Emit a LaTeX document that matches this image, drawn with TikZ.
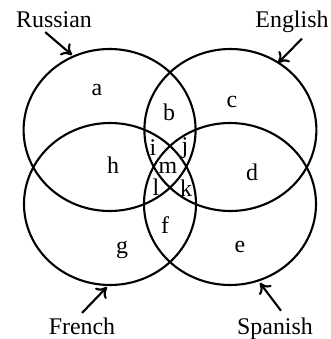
\documentclass[tikz,border=0pt]{standalone}
\usepackage{fontspec}
\setmainfont{Liberation Serif}
\usepackage{tikz}
\usetikzlibrary{arrows.meta}

\tikzset{
  lang/.style={anchor=base,inner sep=1pt,font=\fontsize{17}{20}\selectfont},
  zone/.style={inner sep=0pt,font=\fontsize{17}{20}\selectfont},
  pointer/.style={-{To[length=7pt,width=11pt]}}
}

\begin{document}
\begin{tikzpicture}[line width=1.5pt]
    \useasboundingbox (0,0) rectangle (8.275,8.475);

    \coordinate (CR) at (2.74,5.225);
    \coordinate (CE) at (5.76,5.225);
    \coordinate (CF) at (2.75,3.375);
    \coordinate (CS) at (5.75,3.375);

    \draw (CR) ellipse (2.15 and 2.025);
    \draw (CE) ellipse (2.15 and 2.025);
    \draw (CF) ellipse (2.15 and 2.025);
    \draw (CS) ellipse (2.15 and 2.025);

    \node[lang] (RU) at (1.35,7.8) {Russian};
    \node[lang] (EN) at (7.3,7.8) {English};
    \node[lang] (FR) at (2.05,0.125) {French};
    \node[lang] (SP) at (6.875,0.1) {Spanish};

    \coordinate (RUtip) at (1.8,7.1);
    \coordinate (ENtip) at (6.95,6.9);
    \coordinate (FRtip) at (2.675,1.3);
    \coordinate (SPtip) at (6.5,1.4);

    \draw[pointer] ([xshift=-2.2mm,yshift=-0.6mm]RU.south) -- (RUtip);
    \draw[pointer] ([xshift=2.5mm,yshift=-1mm]EN.south) -- (ENtip);
    \draw[pointer] ([yshift=0.5mm]FR.north) -- (FRtip);
    \draw[pointer] ([xshift=1.5mm,yshift=1.3mm]SP.north) -- (SPtip);

    \node[zone] (za) at (2.425,6.225) {a};
    \node[zone] (zb) at (4.225,5.675) {b};
    \node[zone] (zc) at (5.8,5.925) {c};
    \node[zone] (zd) at (6.3,4.175) {d};
    \node[zone] (ze) at (6.0,2.3) {e};
    \node[zone] (zf) at (4.125,2.85) {f};
    \node[zone] (zg) at (3.05,2.225) {g};
    \node[zone] (zh) at (2.825,4.35) {h};
    \node[zone] (zi) at (3.825,4.775) {i};
    \node[zone] (zj) at (4.625,4.775) {j};
    \node[zone] (zk) at (4.65,3.775) {k};
    \node[zone] (zl) at (3.9,3.8) {l};
    \node[zone] (zm) at (4.2,4.275) {m};
\end{tikzpicture}
\end{document}
